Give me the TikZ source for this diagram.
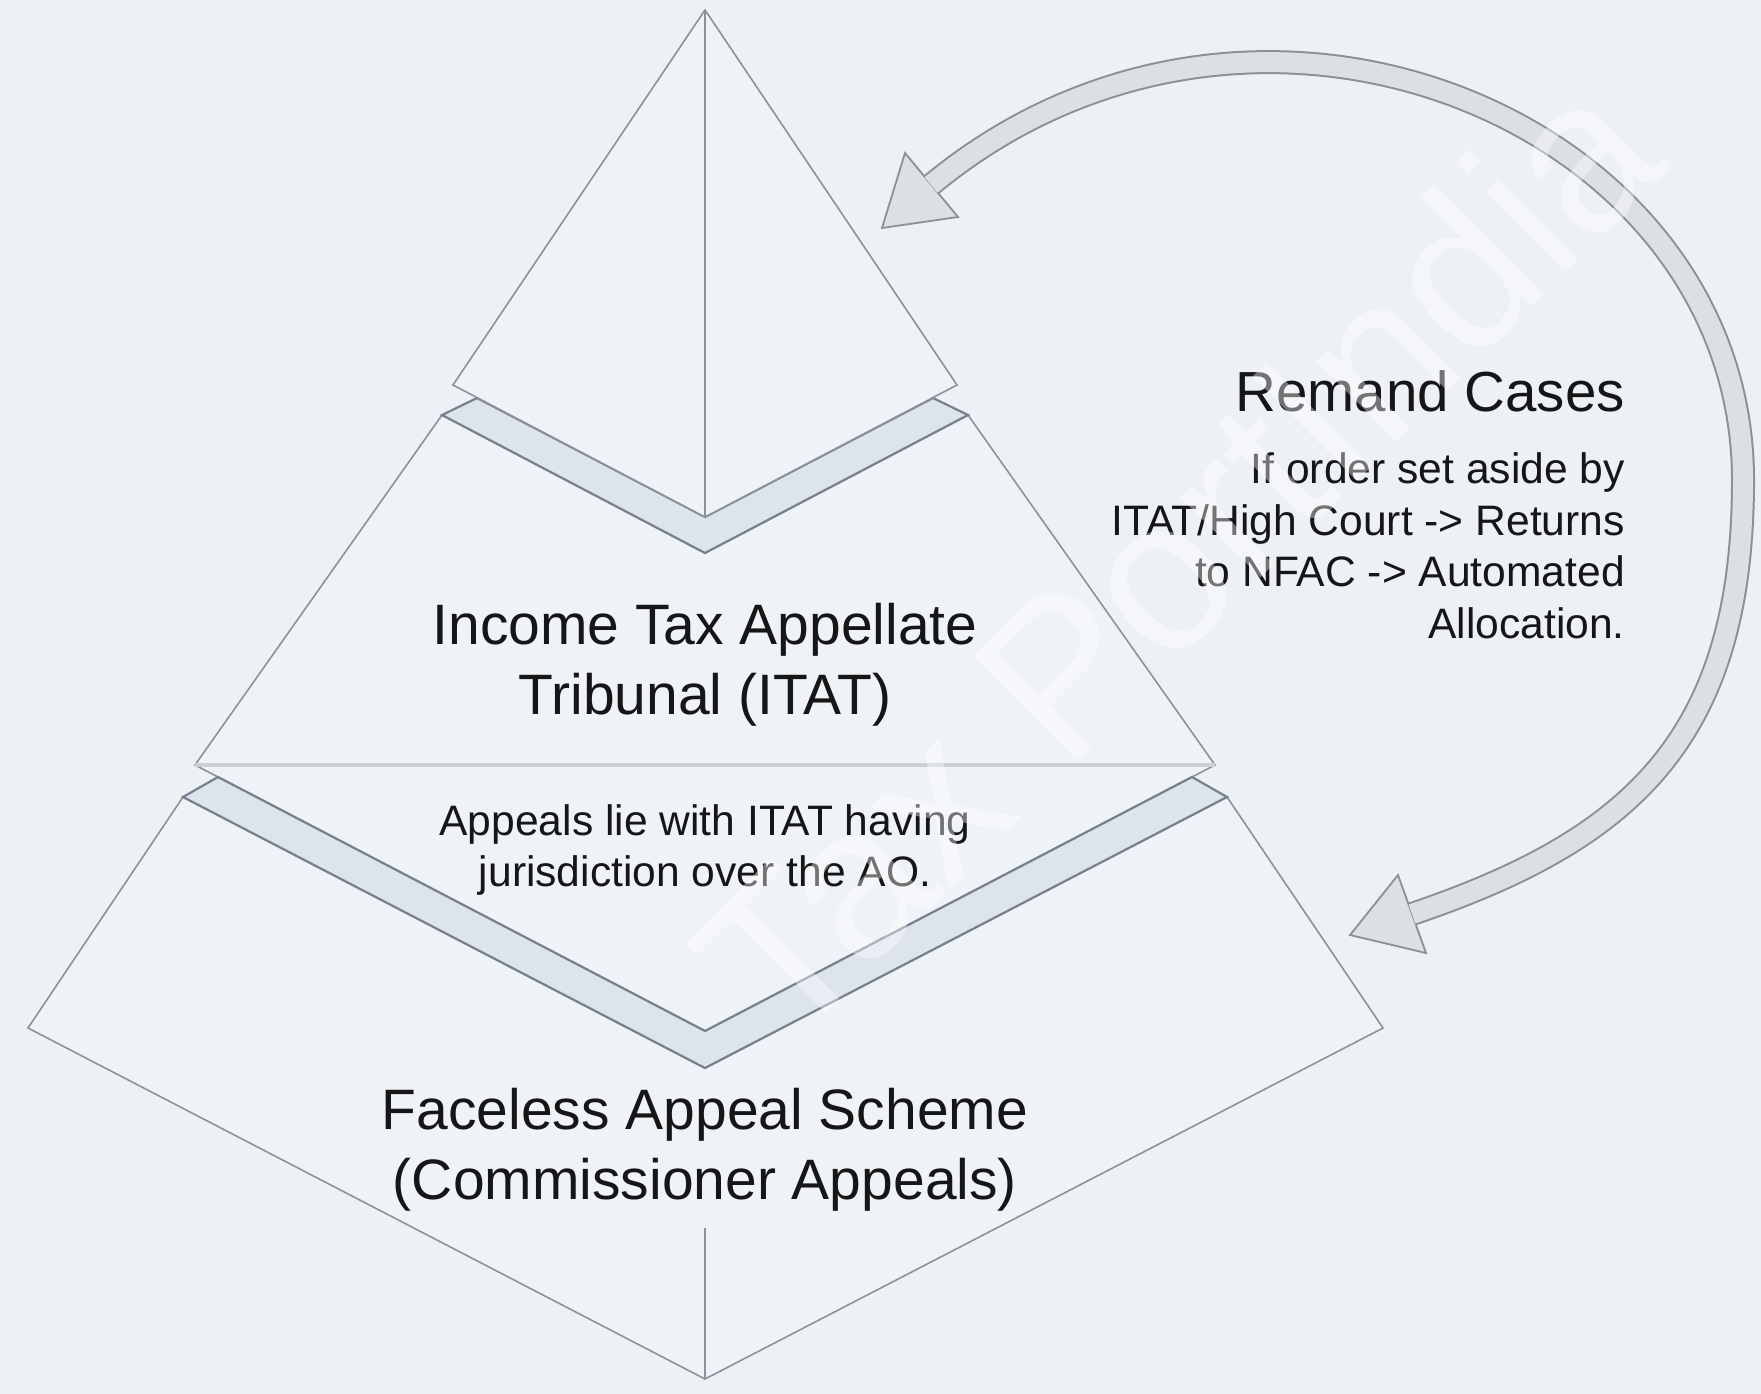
\documentclass[tikz,border=0pt]{standalone}
\usepackage{fontspec}
\setmainfont{Liberation Sans}
\definecolor{canvas}{HTML}{EDF1F5}
\definecolor{facefill}{HTML}{EFF3F7}
\definecolor{edge}{HTML}{8B929B}
\definecolor{bandfill}{HTML}{DDE4EE}
\definecolor{bandedge}{HTML}{77818D}
\definecolor{backline}{HTML}{CBD0D5}
\definecolor{arrowfill}{HTML}{DCDFE3}
\definecolor{arrowedge}{HTML}{8A9098}
\definecolor{ink}{HTML}{161616}
\begin{document}
\begin{tikzpicture}[x=1pt,y=-1pt,
  face/.style={fill=facefill,draw=edge,line width=1.6pt,line join=miter},
  bandstrip/.style={fill=bandfill,draw=bandedge,line width=2.2pt,line join=miter},
  tierlabel/.style={font=\fontsize{57}{70}\selectfont,text=ink,align=center,inner sep=0pt},
  notelabel/.style={font=\fontsize{42.6}{51.5}\selectfont,text=ink,align=center,inner sep=0pt},
  headline/.style={font=\fontsize{56.5}{64}\selectfont,text=ink,inner sep=0pt},
  arrowhead/.style={fill=arrowfill,draw=arrowedge,line width=1.8pt,line join=miter},
  loopshaft/.style={draw=arrowfill,line width=20pt,
    preaction={draw=arrowedge,line width=24pt}},
  stamp/.style={font=\fontsize{215}{215}\selectfont,text=white,text opacity=0.4,inner sep=0pt}]

% canvas
\fill[canvas] (0,0) rectangle (1761,1394);
\useasboundingbox (0,0) rectangle (1761,1394);

% pyramid vertices (pixel grid, y pointing down)
\coordinate (apex) at (705,10);
\coordinate (tL) at (453,385);
\coordinate (tR) at (957,385);
\coordinate (tF) at (705,517);
\coordinate (b1iL) at (477,398);
\coordinate (b1iR) at (933,398);
\coordinate (b1oL) at (442,415);
\coordinate (b1oR) at (968,415);
\coordinate (b1oF) at (705,553);
\coordinate (mL) at (195,765);
\coordinate (mR) at (1215,765);
\coordinate (mF) at (705,1031);
\coordinate (b2iL) at (218,777);
\coordinate (b2iR) at (1192,777);
\coordinate (b2oL) at (183,797);
\coordinate (b2oR) at (1227,797);
\coordinate (b2oF) at (705,1068);
\coordinate (bL) at (28,1028);
\coordinate (bR) at (1383,1028);
\coordinate (bF) at (705,1379);
\coordinate (bEdge) at (705,1228);

% bottom tier
\draw[face] (b2oL) -- (bL) -- (bF) -- (bR) -- (b2oR) -- (b2oF) -- cycle;
\draw[draw=edge,line width=1.6pt] (bEdge) -- (bF);

% middle tier
\draw[face] (b1oL) -- (mL) -- (mF) -- (mR) -- (b1oR) -- (b1oF) -- cycle;
\draw[draw=backline,line width=3.5pt] (mL) -- (mR);

% separating strips
\draw[bandstrip] (b2iL) -- (mF) -- (b2iR) -- (b2oR) -- (b2oF) -- (b2oL) -- cycle;
\draw[bandstrip] (b1iL) -- (tF) -- (b1iR) -- (b1oR) -- (b1oF) -- (b1oL) -- cycle;

% top tier
\draw[face] (apex) -- (tL) -- (tF) -- (tR) -- cycle;
\draw[draw=edge,line width=1.6pt] (apex) -- (tF);

% tier labels
\node[tierlabel] (itat) at (705,665) {Income Tax Appellate\\Tribunal (ITAT)};
\node[notelabel] (juris) at (705,850) {Appeals lie with ITAT having\\jurisdiction over the AO.};
\node[tierlabel] (faceless) at (705,1150) {Faceless Appeal Scheme\\(Commissioner Appeals)};

% remand note
\node[headline,anchor=east] (remand) at (1625,391) {Remand Cases};
\node[notelabel,align=right,anchor=east] (remandnote) at (1625,546)
  {If order set aside by\\ITAT/High Court -> Returns\\to NFAC -> Automated\\Allocation.};

% looping remand arrow
\coordinate (tipA) at (882,228);
\coordinate (barbA1) at (905,153);
\coordinate (barbA2) at (958,217);
\coordinate (loopA) at (931,185);
\coordinate (loopR) at (1743,480);
\coordinate (tipB) at (1350,935);
\coordinate (barbB1) at (1398,875);
\coordinate (barbB2) at (1426,953);
\coordinate (loopB) at (1412,914);

\draw[arrowhead] (barbA1) -- (tipA) -- (barbA2) -- cycle;
\draw[arrowhead] (barbB1) -- (tipB) -- (barbB2) -- cycle;
\draw[loopshaft] (loopA) .. controls (1254,-83) and (1743,120) .. (loopR)
                         .. controls (1743,740) and (1630,840) .. (loopB);

% faint diagonal stamp across the picture
\node[stamp,anchor=base,rotate=45] (stamp) at (1230,609) {Tax PortIndia};
\end{tikzpicture}
\end{document}
